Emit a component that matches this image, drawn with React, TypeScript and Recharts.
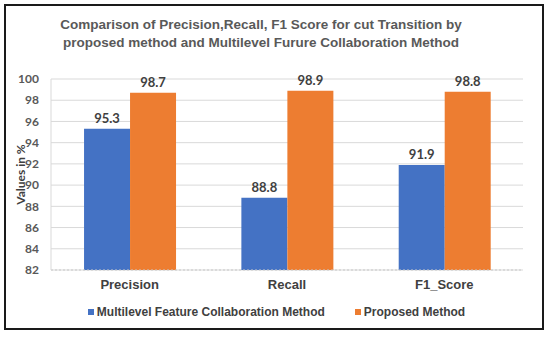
import React from "react";
import { BarChart, Bar, XAxis, YAxis, CartesianGrid, LabelList, Legend } from "recharts";

const categories = ["Precision", "Recall", "F1_Score"];
const multilevelValues = [95.3, 88.8, 91.9];
const proposedValues = [98.7, 98.9, 98.8];
const yTicks = [82, 84, 86, 88, 90, 92, 94, 96, 98, 100];
const seriesNames = ["Multilevel Feature Collaboration Method", "Proposed Method"];
const seriesColors = ["#4472C4", "#ED7D31"];

const data = categories.map((c, i) => ({
  name: c,
  multilevel: multilevelValues[i],
  proposed: proposedValues[i],
}));

const renderLegend = () => (
  <div style={{ display: "flex", justifyContent: "center", gap: 30, paddingLeft: 30, fontFamily: "'Liberation Sans', Arial, sans-serif", fontWeight: 700, fontSize: 12, lineHeight: "14px", color: "#404040" }}>
    {seriesNames.map((n, i) => (
      <div key={n} style={{ display: "flex", alignItems: "center" }}>
        <span style={{ display: "inline-block", width: 6, height: 6, background: seriesColors[i], marginRight: 3 }} />
        <span>{n}</span>
      </div>
    ))}
  </div>
);

export default function App() {
  return (
    <div style={{ position: "absolute", left: 0, top: 0, width: 550, height: 337, background: "#fff" }}>
      <div style={{ position: "absolute", left: 4, top: 4, width: 536, height: 322, border: "2px solid #1a1a1a", boxSizing: "content-box" }} />
      <div
        style={{
          position: "absolute",
          left: 0,
          top: 16,
          width: 522,
          textAlign: "center",
          fontFamily: "'Liberation Sans', Arial, sans-serif",
          fontWeight: 700,
          fontSize: 13.5,
          lineHeight: "18px",
          color: "#595959",
        }}
      >
        Comparison of Precision,Recall, F1 Score for cut Transition by
        <br />
        proposed method and Multilevel Furure Collaboration Method
      </div>
      <div style={{ position: "absolute", left: 0, top: 0 }}>
        <BarChart
          width={550}
          height={337}
          data={data}
          margin={{ top: 79, right: 27, bottom: 18, left: 0 }}
          barCategoryGap="21%"
          barGap={0}
        >
          <CartesianGrid vertical={false} stroke="#d9d9d9" />
          <XAxis
            dataKey="name"
            axisLine={{ stroke: "#c8c8c8", strokeDasharray: "2 2" }}
            tickLine={false}
            tick={{ fill: "#404040", fontSize: 13, fontWeight: 700, fontFamily: "'Liberation Sans', Arial, sans-serif" }}
            tickMargin={4}
            height={35}
          />
          <YAxis
            domain={[82, 100]}
            ticks={yTicks}
            interval={0}
            width={51}
            axisLine={{ stroke: "#d9d9d9" }}
            tickLine={false}
            tickMargin={6}
            tick={{ fill: "#595959", fontSize: 12, fontWeight: 700, fontFamily: "Lato, sans-serif" }}
            label={{
              value: "Values in %",
              angle: -90,
              position: "insideLeft",
              dx: 16,
              style: { textAnchor: "middle", fill: "#404040", fontSize: 12, fontWeight: 700, fontFamily: "Lato, sans-serif" },
            }}
          />
          <Legend verticalAlign="bottom" content={renderLegend} />
          <Bar dataKey="multilevel" name={seriesNames[0]} fill={seriesColors[0]} isAnimationActive={false}>
            <LabelList dataKey="multilevel" position="top" offset={6} style={{ fill: "#404040", fontSize: 13, fontWeight: 700, fontFamily: "Lato, sans-serif" }} />
          </Bar>
          <Bar dataKey="proposed" name={seriesNames[1]} fill={seriesColors[1]} isAnimationActive={false}>
            <LabelList dataKey="proposed" position="top" offset={6} style={{ fill: "#404040", fontSize: 13, fontWeight: 700, fontFamily: "Lato, sans-serif" }} />
          </Bar>
        </BarChart>
      </div>
    </div>
  );
}
